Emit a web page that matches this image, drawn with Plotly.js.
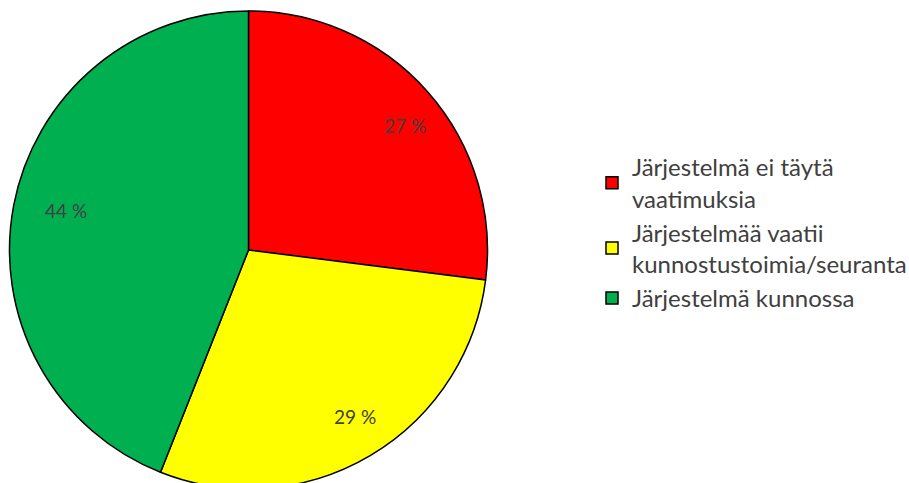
<!DOCTYPE html>
<html>
<head>
<meta charset="utf-8">
<script src="https://cdn.plot.ly/plotly-3.0.1.min.js"></script>
<style>
html,body{margin:0;padding:0;overflow:hidden;background:#fff;}
#chart{width:909px;height:500px;}
#chart text{font-variant-ligatures:none;}
</style>
</head>
<body>
<div id="chart"></div>
<script>
var categories = ["Järjestelmä ei täytä<br>vaatimuksia", "Järjestelmää vaatii<br>kunnostustoimia/seuranta", "Järjestelmä kunnossa"];
var values = [27, 29, 44];
var colors = ["#FF0000", "#FFFF00", "#00B050"];

var W = 909, H = 500;
var cx = 248.5, cy = 250, R = 239;
var total = values.reduce(function(a,b){return a+b;}, 0);
var annotations = [];
var cum = 0;
for (var i = 0; i < values.length; i++) {
  var mid = (cum + values[i] / 2) / total * 2 * Math.PI;
  cum += values[i];
  var f = 0.875;
  var px = cx + Math.sin(mid) * R * f;
  var py = cy - Math.cos(mid) * R * f;
  annotations.push({
    x: px / W, y: 1 - py / H, xref: "paper", yref: "paper",
    text: Math.round(values[i] / total * 100) + " %",
    showarrow: false,
    font: {family: "Lato, 'Open Sans', sans-serif", size: 19, color: "#404040"}
  });
}

var trace = {
  type: "pie",
  labels: categories,
  values: values,
  sort: false,
  direction: "clockwise",
  rotation: 0,
  textinfo: "none",
  hoverinfo: "label+percent",
  marker: {colors: colors, line: {color: "#000000", width: 1.5}},
  domain: {x: [(cx - R) / W, (cx + R) / W], y: [1 - (cy + R) / H, 1 - (cy - R) / H]}
};

var layout = {
  width: W, height: H,
  margin: {l: 0, r: 0, t: 0, b: 0, autoexpand: false},
  paper_bgcolor: "#ffffff",
  showlegend: true,
  legend: {
    x: 592 / W, y: 1 - 145 / H, xanchor: "left", yanchor: "top",
    font: {family: "Lato, 'Open Sans', sans-serif", size: 24, color: "#404040"},
    bgcolor: "rgba(0,0,0,0)"
  },
  annotations: annotations
};

Plotly.newPlot("chart", [trace], layout, {displayModeBar: false, staticPlot: true});
</script>
</body>
</html>
